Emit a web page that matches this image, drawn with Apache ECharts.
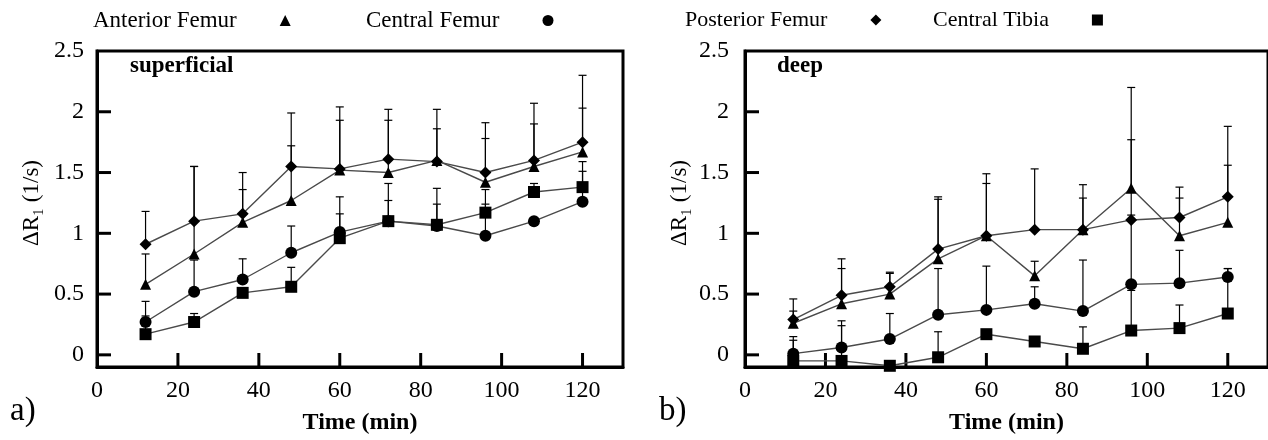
<!DOCTYPE html>
<html>
  <head>
<meta charset="utf-8">
<title>Delta R1 vs time</title>
<script src="https://cdn.jsdelivr.net/npm/echarts@6/dist/echarts.min.js"></script>
<style>
  html, body { margin: 0; padding: 0; background: #fff; }
  #main { width: 1268px; height: 440px; }
</style>
  </head>
  <body>
    <div id="main"></div>
    <script type="application/javascript">

// time points (min)
var times = [12, 24, 36, 48, 60, 72, 84, 96, 108, 120];

// tick positions
var xTickVals = [20, 40, 60, 80, 100, 120];
var yTickVals = [0, 0.5, 1, 1.5, 2];

// superficial layer
var supAnterior      = [0.58, 0.83, 1.09, 1.27, 1.52, 1.50, 1.60, 1.42, 1.55, 1.67];
var supCentralFemur  = [0.27, 0.52, 0.62, 0.84, 1.01, 1.10, 1.06, 0.98, 1.10, 1.26];
var supPosterior     = [0.91, 1.10, 1.16, 1.55, 1.53, 1.61, 1.59, 1.50, 1.60, 1.75];
var supTibia         = [0.17, 0.27, 0.51, 0.56, 0.96, 1.10, 1.07, 1.17, 1.34, 1.38];
// upper ends of the error bars
var supAnteriorTop     = [0.83, 1.55, 1.36, 1.72, 1.93, 1.93, 1.86, 1.78, 1.90, 2.03];
var supCentralFemurTop = [0.44, 0.78, 0.79, 1.06, 1.30, 1.41, 1.37, 1.24, null, 1.51];
var supPosteriorTop    = [1.18, 1.55, 1.50, 1.99, 2.04, 2.02, 2.02, 1.91, 2.07, 2.30];
var supTibiaTop        = [0.32, 0.34, null, 0.72, 1.16, 1.27, 1.24, 1.36, 1.41, 1.59];

// deep layer
var deepAnterior     = [0.26, 0.42, 0.50, 0.79, 0.98, 0.65, 1.03, 1.37, 0.98, 1.09];
var deepCentralFemur = [0.01, 0.06, 0.13, 0.33, 0.37, 0.42, 0.36, 0.58, 0.59, 0.64];
var deepPosterior    = [0.29, 0.49, 0.56, 0.87, 0.98, 1.03, 1.03, 1.11, 1.13, 1.30];
var deepTibia        = [-0.05, -0.05, -0.09, -0.02, 0.17, 0.11, 0.05, 0.20, 0.22, 0.34];
var deepAnteriorTop     = [0.36, 0.71, 0.67, 1.28, 1.41, 0.77, 1.29, 1.77, 1.29, 1.56];
var deepCentralFemurTop = [0.15, 0.28, 0.34, 0.71, 0.73, 0.56, 0.78, 1.15, 0.86, 0.71];
var deepPosteriorTop    = [0.46, 0.79, 0.68, 1.30, 1.49, 1.53, 1.40, 2.20, 1.38, 1.88];
var deepTibiaTop        = [0.12, 0.24, null, 0.19, null, null, 0.23, 0.53, 0.41, 0.71];

var serif = '"Liberation Serif", "DejaVu Serif", serif';

var groups = [
  { name: 'Anterior Femur',  symbol: 'triangle', size: 11, sup: supAnterior,     supTop: supAnteriorTop,     deep: deepAnterior,     deepTop: deepAnteriorTop },
  { name: 'Central Femur',   symbol: 'circle',   size: 12, sup: supCentralFemur, supTop: supCentralFemurTop, deep: deepCentralFemur, deepTop: deepCentralFemurTop },
  { name: 'Posterior Femur', symbol: 'diamond',  size: 12, sup: supPosterior,    supTop: supPosteriorTop,    deep: deepPosterior,    deepTop: deepPosteriorTop },
  { name: 'Central Tibia',   symbol: 'rect',     size: 12, sup: supTibia,        supTop: supTibiaTop,        deep: deepTibia,        deepTop: deepTibiaTop }
];

function pairs(vals) {
  return times.map(function (t, i) { return [t, vals[i]]; });
}
function bars(vals, tops) {
  var out = [];
  times.forEach(function (t, i) {
    if (tops[i] != null) out.push([t, vals[i], tops[i]]);
  });
  return out;
}

function renderBar(params, api) {
  var p0 = api.coord([api.value(0), api.value(1)]);
  var p1 = api.coord([api.value(0), api.value(2)]);
  var st = { stroke: '#000', lineWidth: 1.2 };
  return {
    type: 'group',
    children: [
      { type: 'line', shape: { x1: p0[0], y1: p0[1], x2: p1[0], y2: p1[1] }, style: st },
      { type: 'line', shape: { x1: p1[0] - 4, y1: p1[1], x2: p1[0] + 4, y2: p1[1] }, style: st }
    ]
  };
}

// inward tick marks, placed with the axes' own scales
var TICK = 14;
function renderXTick(params, api) {
  var cs = params.coordSys;
  var x = api.coord([api.value(0), 0])[0];
  var yb = cs.y + cs.height;
  return { type: 'line', shape: { x1: x, y1: yb, x2: x, y2: yb - TICK }, style: { stroke: '#000', lineWidth: 3 } };
}
function renderYTick(params, api) {
  var cs = params.coordSys;
  var y = api.coord([0, api.value(1)])[1];
  return { type: 'line', shape: { x1: cs.x, y1: y, x2: cs.x + TICK, y2: y }, style: { stroke: '#000', lineWidth: 3 } };
}

var series = [];
[0, 1].forEach(function (panel) {
  series.push({
    type: 'custom', xAxisIndex: panel, yAxisIndex: panel,
    renderItem: renderXTick, clip: false,
    data: xTickVals.map(function (v) { return [v, 0]; }),
    z: 1, silent: true
  });
  series.push({
    type: 'custom', xAxisIndex: panel, yAxisIndex: panel,
    renderItem: renderYTick, clip: false,
    data: yTickVals.map(function (v) { return [0, v]; }),
    z: 1, silent: true
  });
  groups.forEach(function (g) {
    var vals = panel === 0 ? g.sup : g.deep;
    var tops = panel === 0 ? g.supTop : g.deepTop;
    series.push({
      type: 'custom',
      xAxisIndex: panel, yAxisIndex: panel,
      renderItem: renderBar,
      data: bars(vals, tops),
      z: 2, silent: true
    });
    series.push({
      name: g.name,
      type: 'line',
      xAxisIndex: panel, yAxisIndex: panel,
      data: pairs(vals),
      symbol: g.symbol,
      symbolSize: g.size,
      itemStyle: { color: '#000' },
      lineStyle: { color: '#4a4a4a', width: 1.4 },
      z: 3, silent: true
    });
  });
});

function xAxis(idx) {
  return {
    type: 'value', gridIndex: idx, position: 'bottom', min: 0, max: 130, interval: 20,
    name: 'Time (min)', nameLocation: 'middle', nameGap: 44,
    nameTextStyle: { fontFamily: serif, fontSize: 24, fontWeight: 'bold', color: '#000' },
    axisLine: { show: true, onZero: false, lineStyle: { color: '#000', width: 3 } },
    axisTick: { show: false },
    axisLabel: { fontFamily: serif, fontSize: 24, color: '#000', margin: 12, showMaxLabel: false },
    splitLine: { show: false }
  };
}
function yAxis(idx, gap) {
  return {
    type: 'value', gridIndex: idx, position: 'left', min: -0.1, max: 2.5,
    name: 'ΔR₁ (1/s)', nameLocation: 'middle', nameGap: 54,
    nameTextStyle: { fontFamily: serif, fontSize: 23, color: '#000', padding: [0, 0, 0, 12] },
    axisLine: { show: true, onZero: false, lineStyle: { color: '#000', width: 3 } },
    axisTick: { show: false },
    axisLabel: { fontFamily: serif, fontSize: 24, color: '#000', margin: gap, showMinLabel: false },
    splitLine: { show: false }
  };
}

function legend(idx, left, size) {
  var g = groups[idx];
  return {
    left: left, top: 9, padding: 0,
    align: 'right', selectedMode: false,
    itemWidth: 11, itemHeight: 11,
    data: [{ name: g.name, icon: g.symbol }],
    formatter: '{n|{name}}',
    textStyle: {
      rich: { n: { fontFamily: serif, fontSize: size, color: '#000', padding: [0, 38, 0, 0] } }
    }
  };
}

var myChart = echarts.init(document.getElementById('main'), null, { renderer: 'canvas' });
myChart.setOption({
  animation: false,
  backgroundColor: '#fff',
  legend: [legend(0, 93, 23), legend(1, 366, 23), legend(2, 685, 22), legend(3, 933, 22)],
  grid: [
    { left: 97, top: 51, width: 526, height: 321, show: true, borderColor: '#000', borderWidth: 3, backgroundColor: 'transparent' },
    { left: 745, top: 51, width: 524, height: 321, show: true, borderColor: '#000', borderWidth: 3, backgroundColor: 'transparent' }
  ],
  xAxis: [xAxis(0), xAxis(1)],
  yAxis: [yAxis(0, 13), yAxis(1, 16)],
  graphic: [
    { type: 'text', left: 130, top: 55, style: { text: 'superficial', font: 'bold 23px ' + serif, fill: '#000' } },
    { type: 'text', left: 777, top: 55, style: { text: 'deep', font: 'bold 23px ' + serif, fill: '#000' } },
    { type: 'text', left: 10, top: 395, style: { text: 'a)', font: '33px ' + serif, fill: '#000' } },
    { type: 'text', left: 659, top: 395, style: { text: 'b)', font: '33px ' + serif, fill: '#000' } }
  ],
  series: series
});

</script>
  </body>
</html>
